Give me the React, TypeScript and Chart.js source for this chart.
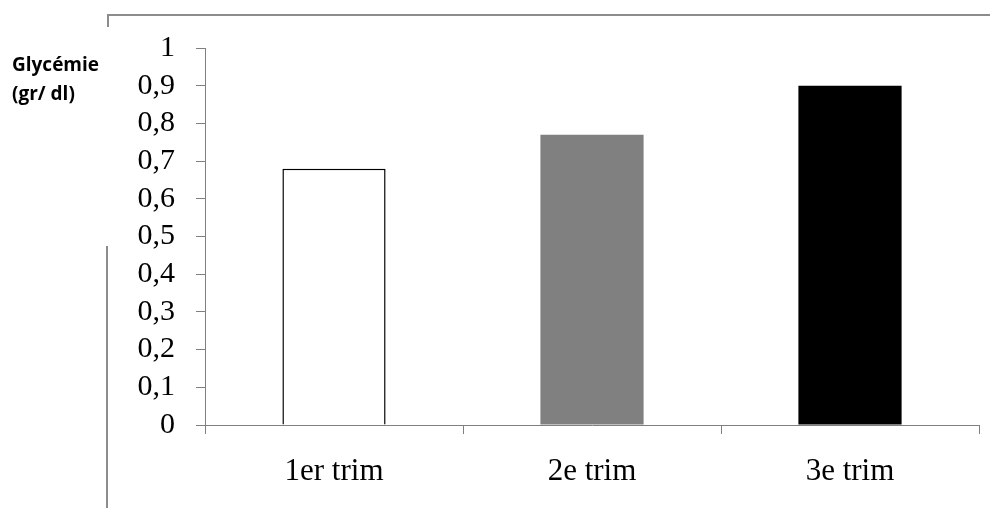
import React, { useEffect, useRef } from "react";
import { Chart, registerables } from "chart.js";

Chart.register(...registerables);

const categories = ["1er trim", "2e trim", "3e trim"];
const glycemie = [0.68, 0.77, 0.9];
const barColors = ["#ffffff", "#808080", "#000000"];
const yTickLabels = ["0", "0,1", "0,2", "0,3", "0,4", "0,5", "0,6", "0,7", "0,8", "0,9", "1"];
const yTitleLines = ["Glycémie", "(gr/ dl)"];

const framePlugin = {
  id: "frame",
  afterDraw(chart: any) {
    const ctx = chart.ctx;
    ctx.save();
    ctx.strokeStyle = "#8c8c8c";
    ctx.lineWidth = 2;
    ctx.beginPath();
    ctx.moveTo(108, 27);
    ctx.lineTo(108, 15);
    ctx.lineTo(990, 15);
    ctx.moveTo(107, 246);
    ctx.lineTo(107, 508);
    ctx.stroke();
    ctx.fillStyle = "#000";
    ctx.font = "bold 19px 'Open Sans'";
    ctx.textAlign = "left";
    ctx.textBaseline = "alphabetic";
    ctx.fillText(yTitleLines[0], 12, 71);
    ctx.fillText(yTitleLines[1], 12, 100);
    ctx.restore();
  },
};

export default function App() {
  const ref = useRef<HTMLCanvasElement>(null);
  useEffect(() => {
    document.body.style.margin = "0";
    const chart = new Chart(ref.current!, {
      type: "bar",
      data: {
        labels: categories,
        datasets: [
          {
            data: glycemie,
            backgroundColor: barColors,
            borderColor: ["#000000", "#808080", "#000000"],
            borderWidth: [1.5, 0, 0],
            barPercentage: 0.4,
            categoryPercentage: 1,
          },
        ],
      },
      options: {
        animation: false,
        responsive: false,
        layout: { padding: { top: 48, right: 11, left: 0, bottom: 0 } },
        plugins: { legend: { display: false }, tooltip: { enabled: false } },
        scales: {
          x: {
            afterFit: (s: any) => {
              s.height = 83;
            },
            grid: { drawOnChartArea: false, drawTicks: true, tickLength: 9, color: "#808080", offset: true },
            border: { color: "#808080", width: 1 },
            ticks: { color: "#000", font: { family: "'Liberation Serif'", size: 31 }, padding: 19 },
          },
          y: {
            min: 0,
            max: 1,
            afterFit: (s: any) => {
              s.width = 205;
            },
            afterBuildTicks: (s: any) => {
              s.ticks = yTickLabels.map((_, i) => ({ value: i / 10 }));
            },
            grid: { drawOnChartArea: false, drawTicks: true, tickLength: 9, color: "#808080" },
            border: { color: "#808080", width: 1 },
            ticks: {
              autoSkip: false,
              color: "#000",
              font: { family: "'Liberation Serif'", size: 30 },
              padding: 21,
              callback: (_v: any, i: number) => yTickLabels[i],
            },
          },
        },
      },
      plugins: [framePlugin],
    });
    return () => chart.destroy();
  }, []);
  return (
    <div style={{ position: "fixed", left: 0, top: 0, width: 990, height: 508, background: "#fff" }}>
      <canvas ref={ref} width={990} height={508} style={{ width: 990, height: 508 }} />
    </div>
  );
}
